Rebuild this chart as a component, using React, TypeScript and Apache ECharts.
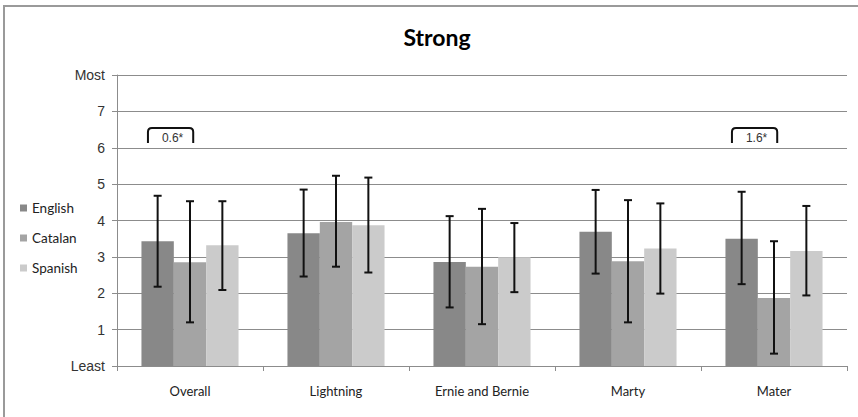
import React, { useEffect, useRef } from "react";
import * as echarts from "echarts";

const categories = ["Overall", "Lightning", "Ernie and Bernie", "Marty", "Mater"];
const seriesNames = ["English", "Catalan", "Spanish"];
const english = [3.43, 3.65, 2.86, 3.69, 3.5];
const catalan = [2.85, 3.96, 2.73, 2.88, 1.87];
const spanish = [3.32, 3.87, 2.99, 3.23, 3.16];
const englishLow = [2.18, 2.46, 1.61, 2.54, 2.25];
const englishHigh = [4.68, 4.85, 4.12, 4.84, 4.79];
const catalanLow = [1.2, 2.73, 1.15, 1.2, 0.34];
const catalanHigh = [4.53, 5.23, 4.32, 4.56, 3.43];
const spanishLow = [2.09, 2.57, 2.03, 1.99, 1.94];
const spanishHigh = [4.53, 5.18, 3.93, 4.47, 4.4];
const annotationCats = [0, 4];
const annotationLabels = ["0.6*", "1.6*"];
const annotationBottom = [6.13, 6.13];
const annotationTop = [6.54, 6.54];
const yTickLabels: Record<number, string> = { 0: "Least", 8: "Most" };

const colors = ["#888888", "#a4a4a4", "#cbcbcb"];
const GAP = 0.335;

export default function App() {
  const ref = useRef<HTMLDivElement>(null);
  useEffect(() => {
    if (!ref.current) return;
    const chart = echarts.init(ref.current, null, { renderer: "svg" });
    const values = [english, catalan, spanish];
    const lows = [englishLow, catalanLow, spanishLow];
    const highs = [englishHigh, catalanHigh, spanishHigh];

    const barSeries = seriesNames.map((name, i) => ({
      type: "bar",
      name,
      data: values[i],
      itemStyle: { color: colors[i] },
      barGap: "0%",
      barCategoryGap: GAP * 100 + "%",
      silent: true,
    }));

    const errSeries = seriesNames.map((name, idx) => ({
      type: "custom",
      name: name + " err",
      z: 5,
      silent: true,
      data: categories.map((_, i) => [i, lows[idx][i], highs[idx][i]]),
      encode: { x: 0, y: [1, 2] },
      renderItem: (params: any, api: any) => {
        const cat = api.value(0);
        const lo = api.coord([cat, api.value(1)]);
        const hi = api.coord([cat, api.value(2)]);
        const band = api.size([1, 0])[0];
        const groupW = band * (1 - GAP);
        const barW = groupW / 3;
        const x = lo[0] - groupW / 2 + barW * (idx + 0.5);
        const cap = 4;
        const st = { stroke: "#111111", lineWidth: 2 };
        return {
          type: "group",
          children: [
            { type: "line", shape: { x1: x, y1: hi[1], x2: x, y2: lo[1] }, style: st },
            { type: "line", shape: { x1: x - cap, y1: hi[1], x2: x + cap, y2: hi[1] }, style: st },
            { type: "line", shape: { x1: x - cap, y1: lo[1], x2: x + cap, y2: lo[1] }, style: st },
          ],
        };
      },
    }));

    const annSeries = {
      type: "custom",
      name: "annotations",
      z: 6,
      silent: true,
      data: annotationCats.map((c, i) => [c, annotationBottom[i], annotationTop[i], i]),
      encode: { x: 0, y: [1, 2] },
      renderItem: (params: any, api: any) => {
        const cat = api.value(0);
        const b = api.coord([cat, api.value(1)]);
        const t = api.coord([cat, api.value(2)]);
        const band = api.size([1, 0])[0];
        const x1 = b[0] - band * 0.288;
        const x2 = b[0] + band * 0.022;
        const yb = b[1];
        const yt = t[1];
        const r = 4;
        const d = `M ${x1} ${yb} L ${x1} ${yt + r} Q ${x1} ${yt} ${x1 + r} ${yt} L ${x2 - r} ${yt} Q ${x2} ${yt} ${x2} ${yt + r} L ${x2} ${yb}`;
        const label = annotationLabels[api.value(3)];
        return {
          type: "group",
          children: [
            { type: "path", shape: { pathData: d }, style: { stroke: "#111111", lineWidth: 2, fill: null } },
            {
              type: "text",
              style: {
                text: label,
                x: (x1 + x2) / 2 + 2,
                y: (yb + yt) / 2 + 2,
                align: "center",
                verticalAlign: "middle",
                fontSize: 12,
                fontFamily: "Liberation Sans, Arial, sans-serif",
                fill: "#333333",
              },
            },
          ],
        };
      },
    };

    chart.setOption({
      animation: false,
      backgroundColor: "#ffffff",
      title: {
        text: "Strong",
        left: 432,
        top: 20,
        textAlign: "center",
        textStyle: { fontFamily: "Lato, Open Sans, sans-serif", fontSize: 23, fontWeight: "bold", color: "#000000" },
      },
      legend: {
        data: seriesNames,
        orient: "vertical",
        left: 20,
        top: 201,
        padding: 0,
        itemWidth: 7,
        itemHeight: 7,
        itemGap: 16,
        icon: "rect",
        selectedMode: false,
        textStyle: { fontFamily: "Lato, Open Sans, sans-serif", fontSize: 13.5, color: "#222222", lineHeight: 14 },
      },
      grid: { left: 117, right: 11, top: 75, bottom: 51, containLabel: false },
      xAxis: {
        type: "category",
        data: categories,
        axisLine: { lineStyle: { color: "#8c8c8c", width: 1 } },
        axisTick: { show: true, length: 5, lineStyle: { color: "#8c8c8c" } },
        axisLabel: { margin: 18, fontFamily: "Lato, Open Sans, sans-serif", fontSize: 13, color: "#222222" },
      },
      yAxis: {
        type: "value",
        min: 0,
        max: 8,
        interval: 1,
        axisLine: { show: true, lineStyle: { color: "#8c8c8c", width: 1 } },
        axisTick: { show: true, length: 5, lineStyle: { color: "#8c8c8c" } },
        splitLine: { lineStyle: { color: "#8c8c8c", width: 1 } },
        axisLabel: {
          margin: 12,
          fontFamily: "Liberation Sans, Arial, sans-serif",
          fontSize: 14,
          color: "#333333",
          formatter: (v: number) => yTickLabels[v] ?? String(v),
        },
      },
      graphic: [
        {
          type: "rect",
          shape: { x: 4, y: 6, width: 900, height: 500 },
          style: { fill: null, stroke: "#9a9a9a", lineWidth: 2 },
          silent: true,
          z: 100,
        },
      ],
      series: [...barSeries, ...errSeries, annSeries],
    });
    return () => chart.dispose();
  }, []);
  return <div ref={ref} style={{ position: "absolute", left: 0, top: 0, width: 858, height: 417 }} />;
}
